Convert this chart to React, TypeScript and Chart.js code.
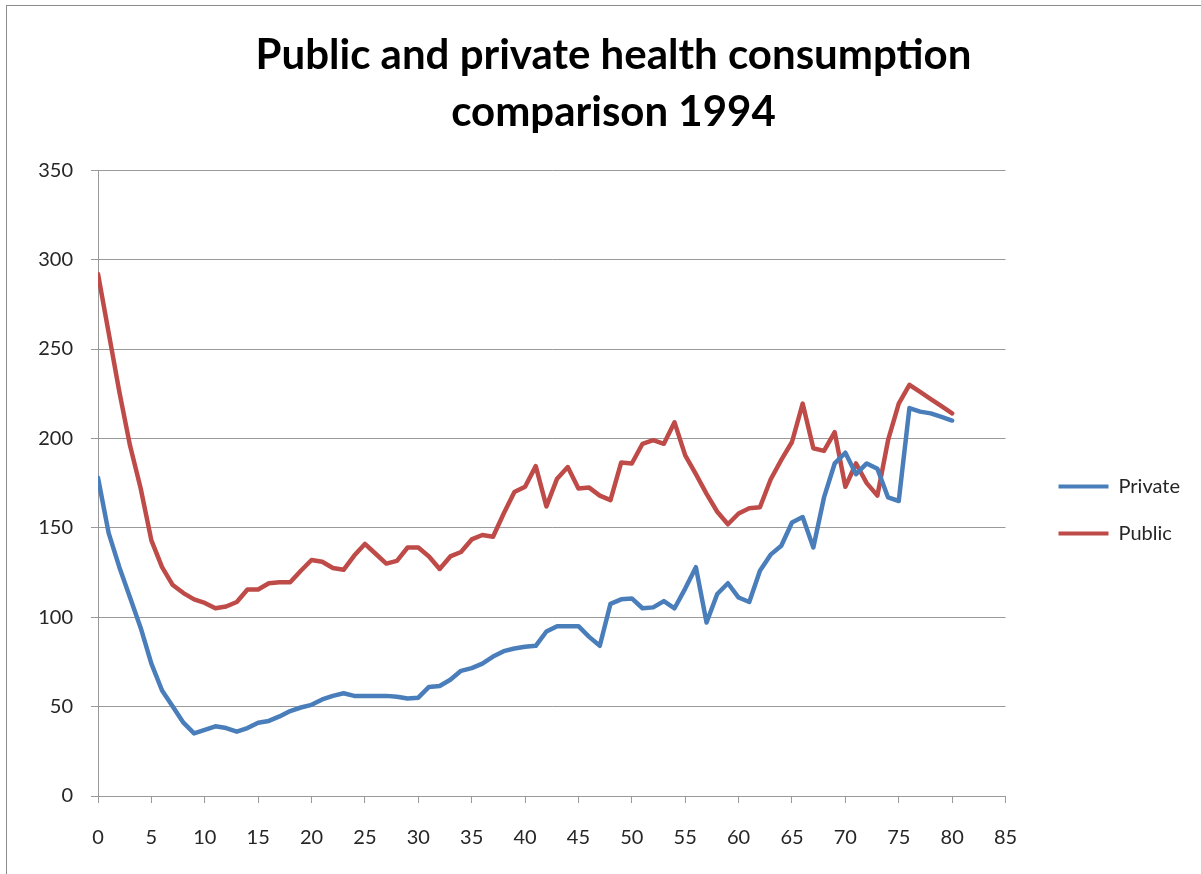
import React, { useEffect, useRef } from "react";
import { Chart, registerables } from "chart.js";

Chart.register(...registerables);

const titleLines = ["Public and private health consumption", "comparison 1994"];

const ages = [
  0, 1, 2, 3, 4, 5, 6, 7, 8, 9, 10, 11, 12, 13, 14, 15, 16, 17, 18, 19, 20,
  21, 22, 23, 24, 25, 26, 27, 28, 29, 30, 31, 32, 33, 34, 35, 36, 37, 38, 39, 40,
  41, 42, 43, 44, 45, 46, 47, 48, 49, 50, 51, 52, 53, 54, 55, 56, 57, 58, 59, 60,
  61, 62, 63, 64, 65, 66, 67, 68, 69, 70, 71, 72, 73, 74, 75, 76, 77, 78, 79, 80,
];

const privateValues = [
  178, 147, 128, 111, 94, 74, 59, 50, 41, 35, 37, 39, 38, 36, 38, 41, 42, 44.5, 47.5, 49.5, 51,
  54, 56, 57.5, 56, 56, 56, 56, 55.5, 54.5, 55, 61, 61.5, 65, 70, 71.5, 74, 78, 81, 82.5, 83.5,
  84, 92, 95, 95, 95, 89, 84, 107.5, 110, 110.5, 105, 105.5, 109, 105, 116, 128, 97, 113, 119, 111,
  108.5, 126, 135, 140, 153, 156, 139, 167, 186, 192, 180, 186, 183, 167, 165, 217, 215, 214, 212, 210,
];

const publicValues = [
  292, 259, 226, 196, 172, 143, 128, 118, 113.5, 110, 108, 105, 106, 108.5, 115.5, 115.5, 119, 119.5, 119.5, 126, 132,
  131, 127.5, 126.5, 134.5, 141, 135.5, 130, 131.5, 139, 139, 134, 127, 134, 136.5, 143.5, 146, 145, 158, 170, 173,
  184.5, 162, 177.5, 184, 172, 172.5, 168, 165.5, 186.5, 186, 197, 199, 197, 209, 190.5, 180, 169, 159, 152, 158,
  161, 161.5, 177, 188, 198, 219.5, 194.5, 193, 203.5, 173, 186, 175, 168, 199, 219.5, 230, 226, 222, 218, 214,
];

const seriesNames = ["Private", "Public"];
const seriesColors = ["#4a7ebb", "#be4b48"];

const xMin = 0;
const xMax = 85;
const xStep = 5;
const yMin = 0;
const yMax = 350;
const yStep = 50;

export default function App() {
  const canvasRef = useRef<HTMLCanvasElement | null>(null);

  useEffect(() => {
    if (!canvasRef.current) return;
    const toPoints = (vals: number[]) => ages.map((a, i) => ({ x: a, y: vals[i] }));
    const font = "Lato, 'Open Sans', sans-serif";
    const gridColor = "#9a9a9a";
    const tickColor = "#262626";

    const chart = new Chart(canvasRef.current, {
      type: "line",
      data: {
        datasets: [
          {
            label: seriesNames[0],
            data: toPoints(privateValues),
            borderColor: seriesColors[0],
            backgroundColor: seriesColors[0],
            borderWidth: 4.5,
            pointRadius: 0,
            tension: 0,
            borderJoinStyle: "round",
            borderCapStyle: "round",
          },
          {
            label: seriesNames[1],
            data: toPoints(publicValues),
            borderColor: seriesColors[1],
            backgroundColor: seriesColors[1],
            borderWidth: 4.5,
            pointRadius: 0,
            tension: 0,
            borderJoinStyle: "round",
            borderCapStyle: "round",
          },
        ],
      },
      options: {
        animation: false,
        responsive: false,
        maintainAspectRatio: false,
        layout: { padding: { left: 37, right: 11, top: 0, bottom: 0 } },
        plugins: {
          tooltip: { enabled: false },
          title: {
            display: true,
            text: titleLines,
            color: "#000",
            font: { family: font, size: 42, weight: "bold", lineHeight: 1.36 },
            padding: { top: 27, bottom: 29 },
          },
          legend: {
            position: "right",
            fullSize: false,
            title: {
              display: true,
              text: " ",
              font: { family: font, size: 18 },
              padding: { top: 0, bottom: 32 },
            },
            labels: {
              boxWidth: 50,
              boxHeight: 4,
              padding: 27,
              color: tickColor,
              font: { family: font, size: 20 },
              generateLabels: (c: any) =>
                (Chart.defaults.plugins.legend.labels.generateLabels as any)(c).map((l: any) => ({
                  ...l,
                  lineWidth: 0,
                })),
            },
          },
        },
        scales: {
          x: {
            type: "linear",
            min: xMin,
            max: xMax,
            afterFit: (s: any) => {
              s.height = 78;
            },
            ticks: {
              stepSize: xStep,
              color: tickColor,
              padding: 23,
              maxRotation: 0,
              font: { family: font, size: 20 },
            },
            grid: {
              drawOnChartArea: false,
              drawTicks: true,
              tickLength: 7,
              color: gridColor,
            },
            border: { color: gridColor, width: 1 },
          },
          y: {
            type: "linear",
            min: yMin,
            max: yMax,
            afterFit: (s: any) => {
              s.width = 61;
            },
            ticks: {
              stepSize: yStep,
              color: tickColor,
              padding: 18,
              font: { family: font, size: 20 },
            },
            grid: {
              color: gridColor,
              lineWidth: 1,
              tickLength: 7,
            },
            border: { color: gridColor, width: 1 },
          },
          spacer: {
            type: "linear",
            position: "right",
            display: true,
            afterFit: (s: any) => {
              s.width = 26;
            },
            grid: { display: false },
            ticks: { display: false },
            border: { display: false },
          },
        },
      } as any,
    });
    return () => chart.destroy();
  }, []);

  return (
    <div
      style={{
        position: "absolute",
        left: 0,
        top: 0,
        width: 1201,
        height: 874,
        overflow: "hidden",
        background: "#fff",
      }}
    >
      <div
        style={{
          position: "absolute",
          left: 6,
          top: 5,
          width: 1210,
          height: 880,
          border: "1px solid #8c8c8c",
          boxSizing: "border-box",
        }}
      />
      <canvas
        ref={canvasRef}
        width={1201}
        height={874}
        style={{ position: "absolute", left: 0, top: 0, width: 1201, height: 874 }}
      />
    </div>
  );
}
